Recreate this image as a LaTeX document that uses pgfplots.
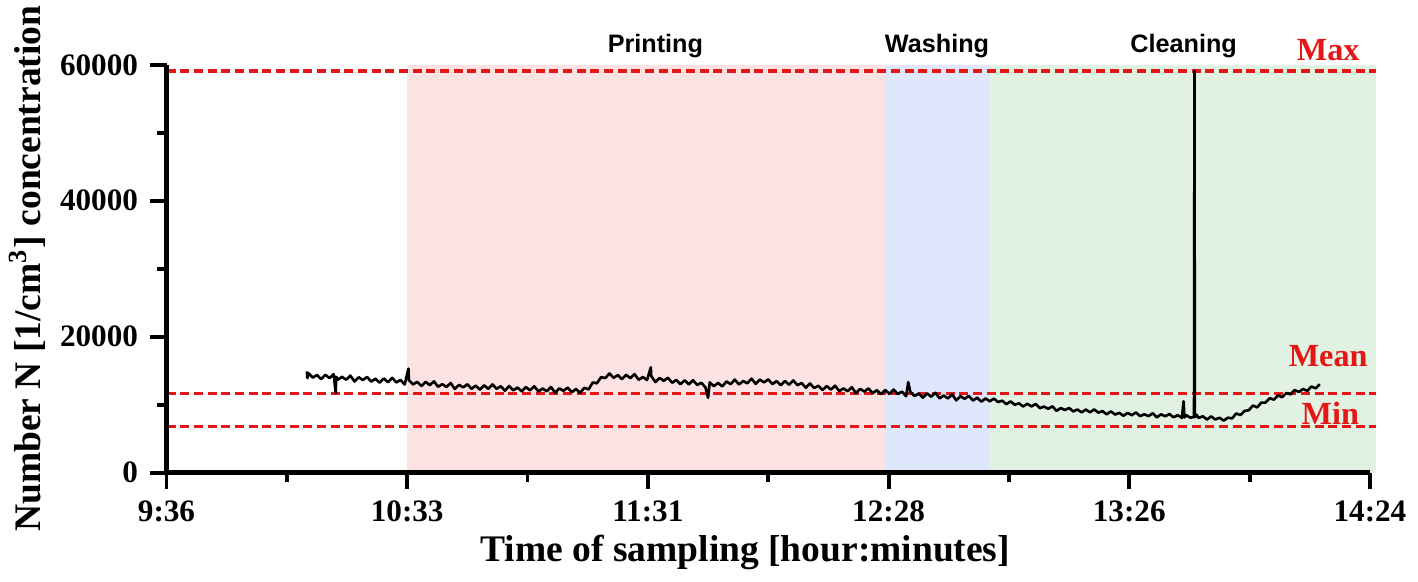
\documentclass[border=0pt]{standalone}
\usepackage{pgfplots}
\pgfplotsset{compat=1.18}
\usepackage{fontspec}
\setmainfont{Liberation Serif}
\newfontfamily\arialfont{Liberation Sans}
\definecolor{pinkbg}{RGB}{253,226,227}
\definecolor{bluebg}{RGB}{222,231,251}
\definecolor{greenbg}{RGB}{225,242,226}
\definecolor{lred}{RGB}{228,22,22}
\begin{document}
\begin{tikzpicture}
\begin{axis}[
 scale only axis, width=120.7mm, height=40.9mm,
 xmin=576, xmax=864, ymin=0, ymax=60000,
 axis x line*=bottom, axis y line*=left,
 axis line style={line width=1.3pt},
 axis on top,
 clip=false,
 scaled y ticks=false,
 xtick={576,633.6,691.2,748.8,806.4,864},
 xticklabels={9:36,10:33,11:31,12:28,13:26,14:24},
 minor xtick={604.8,662.4,720,777.6,835.2},
 ytick={0,20000,40000,60000}, yticklabels={0,20000,40000,60000},
 minor ytick={10000,30000,50000},
 tick align=outside,
 major tick length=4.6pt, minor tick length=2.6pt,
 tick style={line width=1.1pt, black},
 tick label style={font=\fontsize{8.9}{10}\selectfont\bfseries},
 xlabel={Time of sampling [hour:minutes]},
 ylabel={Number N [1/cm\textsuperscript{3}] concentration},
 label style={font=\fontsize{10.7}{13}\selectfont\bfseries},
 xlabel style={at={(axis description cs:0.481,0)}, anchor=base, yshift=-8.9mm},
 ylabel style={at={(axis description cs:-0.1317,0.5)}, anchor=north, inner sep=0pt},
]
\addplot[fill=pinkbg, draw=none] coordinates {(633.6,60000) (748,60000)} \closedcycle;
\addplot[fill=bluebg, draw=none] coordinates {(748,60000) (773.1,60000)} \closedcycle;
\addplot[fill=greenbg, draw=none] coordinates {(773.1,60000) (865.5,60000)} \closedcycle;
\addplot[lred, line width=0.9pt, dash pattern=on 2.6pt off 1.3pt] coordinates {(576,59100) (865.5,59100)};
\addplot[lred, line width=0.9pt, dash pattern=on 2.6pt off 1.3pt] coordinates {(576,11700) (865.5,11700)};
\addplot[lred, line width=0.9pt, dash pattern=on 2.6pt off 1.3pt] coordinates {(576,6800) (865.5,6800)};
\addplot[black, line width=0.75pt, line join=round] table[row sep=\\] {
x y\\
609.6 14900\\ 609.7 13900\\ 610 14610\\ 611 13970\\ 612 14360\\ 613 13760\\ 614 14390\\ 615 13900\\ 616 14480\\ 616.5 11700\\ 616.6 14100\\
617 13680\\ 618 14090\\ 619 13670\\ 620 14270\\ 621 13400\\ 622 14020\\ 623 13620\\ 624 14070\\ 625 13380\\ 626 13820\\ 627 13230\\ 628 13850\\
629 13300\\ 630 13940\\ 631 13270\\ 632 13630\\ 633 12960\\ 633.9 15300\\ 634 13620\\ 635 12970\\ 636 13350\\ 637 12740\\ 638 13360\\ 639 12860\\
640 13430\\ 641 12620\\ 642 13020\\ 643 12590\\ 644 13180\\ 645 12300\\ 646 12910\\ 647 12540\\ 648 13000\\ 649 12330\\ 650 12790\\ 651 12210\\
652 12850\\ 653 12320\\ 654 12970\\ 655 12330\\ 656 12700\\ 657 12050\\ 658 12740\\ 659 12110\\ 660 12520\\ 661 11940\\ 662 12580\\ 663 12110\\
664 12710\\ 665 11940\\ 666 12370\\ 667 11970\\ 668 12600\\ 669 11750\\ 670 12390\\ 671 12030\\ 672 12500\\ 673 11830\\ 674 12300\\ 675 11730\\
676 12490\\ 677 12230\\ 678 13260\\ 679 13140\\ 680 14040\\ 681 13910\\ 682 14580\\ 683 13950\\ 684 14340\\ 685 13750\\ 686 14380\\ 687 13900\\
688 14480\\ 689 13660\\ 690 14060\\ 691 13620\\ 691.9 15500\\ 692 14210\\ 693 13320\\ 694 13920\\ 695 13520\\ 696 13950\\ 697 13220\\ 698 13620\\
699 13000\\ 700 13580\\ 701 12990\\ 702 13590\\ 703 12900\\ 704 13220\\ 705 12510\\ 705.6 11000\\ 706 13270\\ 707 12720\\ 708 13200\\ 709 12690\\
710 13410\\ 711 13010\\ 712 13680\\ 713 12970\\ 714 13470\\ 715 13140\\ 716 13830\\ 717 13050\\ 718 13670\\ 719 13270\\ 720 13720\\ 721 13020\\
722 13460\\ 723 12860\\ 724 13480\\ 725 12920\\ 726 13560\\ 727 12860\\ 728 13180\\ 729 12480\\ 730 13110\\ 731 12430\\ 732 12780\\ 733 12150\\
734 12740\\ 735 12210\\ 736 12790\\ 737 11990\\ 738 12390\\ 739 11970\\ 740 12570\\ 741 11700\\ 742 12320\\ 743 11930\\ 744 12380\\ 745 11680\\
746 12120\\ 747 11530\\ 748 12140\\ 749 11590\\ 750 12220\\ 751 11560\\ 752 11910\\ 753 11240\\ 753.5 13300\\ 754 11900\\ 755 11260\\ 756 11640\\
757 11030\\ 758 11660\\ 759 11160\\ 760 11740\\ 761 10930\\ 762 11340\\ 763 10910\\ 764 11510\\ 765 10630\\ 766 11240\\ 767 10850\\ 768 11290\\
769 10600\\ 770 11030\\ 771 10430\\ 772 10920\\ 773 10490\\ 774 10890\\ 775 10380\\ 776 10580\\ 777 10060\\ 778 10480\\ 779 9980\\ 780 10200\\
781 9730\\ 782 10120\\ 783 9740\\ 784 10090\\ 785 9480\\ 786 9710\\ 787 9380\\ 788 9750\\ 789 9090\\ 790 9500\\ 791 9210\\ 792 9510\\
793 9000\\ 794 9290\\ 795 8860\\ 796 9270\\ 797 8870\\ 798 9300\\ 799 8820\\ 800 9050\\ 801 8570\\ 802 9010\\ 803 8540\\ 804 8790\\
805 8360\\ 806 8780\\ 807 8450\\ 808 8850\\ 809 8300\\ 810 8590\\ 811 8300\\ 812 8730\\ 813 8130\\ 814 8570\\ 815 8290\\ 816 8620\\
817 8140\\ 818 8450\\ 819 8040\\ 819.4 10500\\ 819.6 8100\\ 820 8460\\ 821 8080\\ 821.9 8200\\ 822 59100\\ 822.1 8150\\ 822.5 8510\\ 823 8040\\
824 8290\\ 825 7810\\ 826 8270\\ 827 7810\\ 828 8070\\ 829 7650\\ 830 8080\\ 831 7970\\ 832 8700\\ 833 8470\\ 834 9080\\ 835 9170\\
836 9870\\ 837 9590\\ 838 10300\\ 839 10300\\ 840 10950\\ 841 10740\\ 842 11330\\ 843 11100\\ 844 11710\\ 845 11520\\ 846 12140\\ 847 11870\\
848 12300\\ 849 12020\\ 850 12660\\ 851 12400\\ 852 13000\\
};
\node[font=\fontsize{7.2}{9}\selectfont\arialfont\bfseries] at (axis cs:693,62800) {Printing};
\node[font=\fontsize{7.2}{9}\selectfont\arialfont\bfseries] at (axis cs:760.4,62800) {Washing};
\node[font=\fontsize{7.2}{9}\selectfont\arialfont\bfseries] at (axis cs:819.4,62800) {Cleaning};
\node[font=\fontsize{9.2}{11}\selectfont\bfseries, text=lred] at (axis cs:854,62200) {Max};
\node[font=\fontsize{9.2}{11}\selectfont\bfseries, text=lred] at (axis cs:854,17160) {Mean};
\node[font=\fontsize{9.2}{11}\selectfont\bfseries, text=lred] at (axis cs:854.5,8650) {Min};
\end{axis}
\path (current axis.south west) ++(-16.7mm,-10.3mm) rectangle ++(141.8mm,57.7mm);
\end{tikzpicture}
\end{document}
